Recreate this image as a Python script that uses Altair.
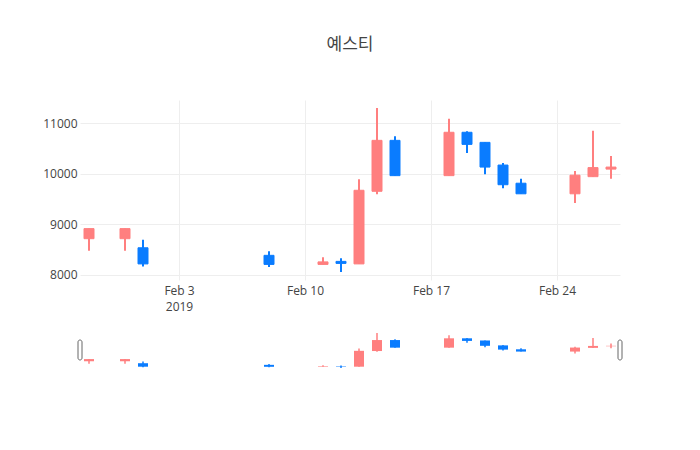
import altair as alt
import pandas as pd

# ---- data ----
dates = ["2019-01-29", "2019-01-31", "2019-02-01", "2019-02-08", "2019-02-11",
         "2019-02-12", "2019-02-13", "2019-02-14", "2019-02-15", "2019-02-18",
         "2019-02-19", "2019-02-20", "2019-02-21", "2019-02-22", "2019-02-25",
         "2019-02-26", "2019-02-27"]
opens = [8710, 8710, 8530, 8380, 8200, 8260, 8210, 9650, 10660, 9960,
         10820, 10620, 10170, 9810, 9600, 9940, 10090]
highs = [8910, 8910, 8690, 8460, 8340, 8320, 9890, 11300, 10740, 11090,
         10840, 10620, 10210, 9900, 10050, 10850, 10350]
lows = [8470, 8470, 8160, 8150, 8200, 8050, 8210, 9590, 9960, 9960,
        10410, 9990, 9710, 9600, 9420, 9940, 9900]
closes = [8910, 8910, 8210, 8200, 8250, 8220, 9670, 10660, 9960, 10820,
          10580, 10130, 9780, 9600, 9970, 10120, 10130]

y_ticks = [8000, 9000, 10000, 11000]
x_tick_days = [3, 10, 17, 24]
title_text = "예스티"

UP = "#ff7f7f"
DOWN = "#0a7cff"

df = pd.DataFrame({"date": dates, "open": opens, "high": highs,
                   "low": lows, "close": closes})
df["dir"] = ["up" if c >= o else "down" for o, c in zip(opens, closes)]

handles = pd.DataFrame({"date": ["2019-01-28T12:00:00Z", "2019-02-27T12:00:00Z"]})

x_domain = [alt.DateTime(year=2019, month=1, date=28, hours=12, utc=True),
            alt.DateTime(year=2019, month=2, date=27, hours=12, utc=True)]
x_scale = alt.Scale(type="utc", domain=x_domain, padding=0)
dir_scale = alt.Scale(domain=["up", "down"], range=[UP, DOWN])
color = alt.Color("dir:N", scale=dir_scale, legend=None)

x_axis = alt.Axis(
    values=[alt.DateTime(year=2019, month=2, date=d, utc=True) for d in x_tick_days],
    labelExpr="datum.index == 0 ? [utcFormat(datum.value, '%b %-d'), utcFormat(datum.value, '%Y')] : utcFormat(datum.value, '%b %-d')",
    grid=True, ticks=False, tickSize=0, domain=False, labelPadding=5,
    labelLineHeight=16, labelAngle=0,
)
y_axis = alt.Axis(values=y_ticks, format="d", grid=True, ticks=False, tickSize=0,
                  domain=False, labelPadding=3)

base = alt.Chart(df)

main_y = alt.Scale(domain=[7891, 11460], nice=False, zero=False, padding=0)
wick = base.mark_rule(strokeWidth=2).encode(
    x=alt.X("date:T", scale=x_scale, axis=x_axis, title=None),
    y=alt.Y("low:Q", scale=main_y, axis=y_axis, title=None),
    y2="high:Q",
    color=color,
)
body = base.mark_bar(size=10, strokeWidth=1).encode(
    x=alt.X("date:T", scale=x_scale),
    y=alt.Y("open:Q", scale=main_y),
    y2="close:Q",
    color=color,
    stroke=alt.Stroke("dir:N", scale=dir_scale, legend=None),
)
main = alt.layer(wick, body).properties(width=540, height=180)

slide_y = alt.Scale(domain=[8090, 11400], nice=False, zero=False, padding=0)
s_wick = base.mark_rule(strokeWidth=1.5, clip=True).encode(
    x=alt.X("date:T", scale=x_scale, axis=None),
    y=alt.Y("low:Q", scale=slide_y, axis=None),
    y2="high:Q",
    color=color,
)
s_body = base.mark_bar(size=10, clip=True).encode(
    x=alt.X("date:T", scale=x_scale),
    y=alt.Y("open:Q", scale=slide_y),
    y2="close:Q",
    color=color,
)
s_handle = alt.Chart(handles).mark_bar(
    size=4, fill="white", stroke="#666", strokeWidth=1, cornerRadius=2
).encode(
    x=alt.X("date:T", scale=x_scale),
    y=alt.value(8),
    y2=alt.value(28),
)
slider = alt.layer(s_wick, s_body, s_handle).properties(width=540, height=36)

chart = alt.vconcat(main, slider, spacing=52, bounds="flush").properties(
    title=alt.TitleParams(title_text, fontSize=17, font="Noto Sans CJK KR",
                          fontWeight="normal", color="#444", anchor="middle",
                          frame="group", offset=46),
    padding={"left": 34, "top": 28, "right": 40, "bottom": 40},
).configure(
    background="white",
    view=alt.ViewConfig(stroke=None),
    axis=alt.AxisConfig(gridColor="#eee", labelFont="Open Sans", labelColor="#444",
                        labelFontSize=12),
)

chart.save("out.html", embed_options={"renderer": "svg", "actions": False})
